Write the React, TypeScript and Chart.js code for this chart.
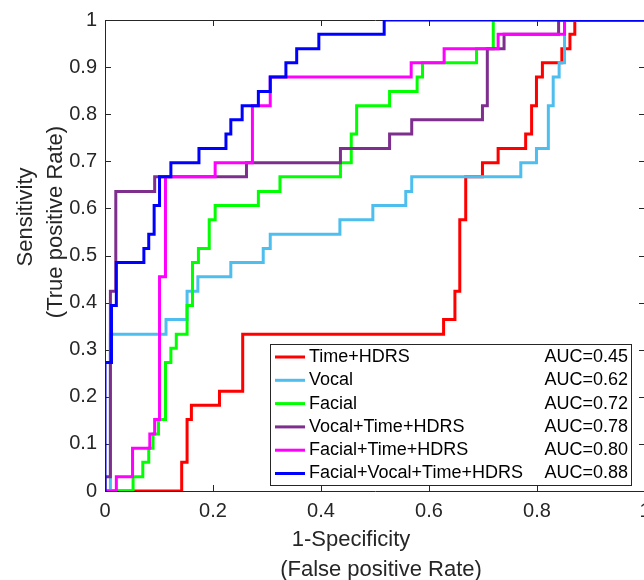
import React, { useEffect, useRef } from 'react';
import { Chart, registerables } from 'chart.js';

Chart.register(...registerables);

const seriesNames = ['Time+HDRS', 'Vocal', 'Facial', 'Vocal+Time+HDRS', 'Facial+Time+HDRS', 'Facial+Vocal+Time+HDRS'];
const aucLabels = ['AUC=0.45', 'AUC=0.62', 'AUC=0.72', 'AUC=0.78', 'AUC=0.80', 'AUC=0.88'];
const seriesColors = ['#FF0000', '#4DBEEE', '#00FF00', '#7E2F8E', '#FF00FF', '#0000FF'];

const timeHdrsFpr = [0, 0.142, 0.152, 0.16, 0.212, 0.255, 0.627, 0.648, 0.657, 0.668, 0.699, 0.728, 0.779, 0.79, 0.799, 0.81, 0.846, 0.861, 0.87, 1];
const timeHdrsTpr = [0, 0.061, 0.152, 0.182, 0.212, 0.333, 0.364, 0.424, 0.576, 0.667, 0.697, 0.727, 0.758, 0.818, 0.879, 0.909, 0.939, 0.97, 1, 1];

const vocalFpr = [0, 0.01, 0.113, 0.152, 0.172, 0.233, 0.293, 0.306, 0.435, 0.496, 0.557, 0.568, 0.77, 0.799, 0.821, 0.83, 0.841, 0.851, 1];
const vocalTpr = [0, 0.333, 0.364, 0.424, 0.455, 0.485, 0.515, 0.545, 0.576, 0.606, 0.636, 0.667, 0.697, 0.727, 0.818, 0.879, 0.909, 1, 1];

const facialFpr = [0, 0.052, 0.07, 0.081, 0.089, 0.099, 0.112, 0.122, 0.132, 0.152, 0.162, 0.173, 0.193, 0.204, 0.284, 0.324, 0.436, 0.456, 0.466, 0.527, 0.578, 0.588, 0.688, 0.719, 1];
const facialTpr = [0, 0.03, 0.061, 0.091, 0.121, 0.152, 0.273, 0.303, 0.333, 0.394, 0.485, 0.515, 0.576, 0.606, 0.636, 0.667, 0.697, 0.758, 0.818, 0.848, 0.879, 0.909, 0.939, 1, 1];

const vocalTimeFpr = [0, 0, 0.01, 0.02, 0.092, 0.262, 0.436, 0.527, 0.568, 0.699, 0.708, 0.739, 0.84, 1];
const vocalTimeTpr = [0, 0.03, 0.424, 0.636, 0.667, 0.697, 0.727, 0.758, 0.788, 0.818, 0.939, 0.97, 1, 1];

const facialTimeFpr = [0, 0.021, 0.051, 0.083, 0.092, 0.101, 0.112, 0.204, 0.273, 0.306, 0.567, 0.628, 0.728, 0.851, 1];
const facialTimeTpr = [0, 0.03, 0.091, 0.121, 0.152, 0.455, 0.667, 0.697, 0.818, 0.879, 0.909, 0.939, 0.97, 1, 1];

const allFpr = [0, 0, 0.012, 0.021, 0.072, 0.081, 0.091, 0.101, 0.122, 0.174, 0.224, 0.233, 0.254, 0.284, 0.306, 0.335, 0.355, 0.396, 0.517, 1];
const allTpr = [0, 0.273, 0.394, 0.485, 0.515, 0.545, 0.606, 0.667, 0.697, 0.727, 0.758, 0.788, 0.818, 0.848, 0.879, 0.909, 0.939, 0.97, 1, 1];

const fprSeries = [timeHdrsFpr, vocalFpr, facialFpr, vocalTimeFpr, facialTimeFpr, allFpr];
const tprSeries = [timeHdrsTpr, vocalTpr, facialTpr, vocalTimeTpr, facialTimeTpr, allTpr];

const xTickValues = [0, 0.2, 0.4, 0.6, 0.8, 1];
const xTickLabels = ['0', '0.2', '0.4', '0.6', '0.8', '1'];
const yTickValues = [0, 0.1, 0.2, 0.3, 0.4, 0.5, 0.6, 0.7, 0.8, 0.9, 1];
const yTickLabels = ['0', '0.1', '0.2', '0.3', '0.4', '0.5', '0.6', '0.7', '0.8', '0.9', '1'];
const xTitleLines = ['1-Specificity', '(False positive Rate)'];
const yTitleLines = ['Sensitivity', '(True positive Rate)'];

const FONT = '"Liberation Sans", Arial, Helvetica, sans-serif';
const AXIS_COLOR = '#262626';

function labelFor(values: number[], labels: string[], v: number) {
  for (let i = 0; i < values.length; i++) {
    if (Math.abs(values[i] - v) < 1e-6) return labels[i];
  }
  return '';
}

const framePlugin = {
  id: 'matlabFrame',
  beforeDatasetsDraw(chart: any) {
    const { ctx, chartArea } = chart;
    const { left, right, top, bottom } = chartArea;
    const xs = chart.scales.x;
    const ys = chart.scales.y;
    ctx.save();
    ctx.strokeStyle = AXIS_COLOR;
    ctx.lineWidth = 1;
    ctx.beginPath();
    ctx.rect(Math.round(left) + 0.5, Math.round(top) + 0.5, Math.round(right - left), Math.round(bottom - top));
    ctx.stroke();
    const tl = 6;
    ctx.beginPath();
    xTickValues.forEach((v) => {
      const px = Math.round(xs.getPixelForValue(v)) + 0.5;
      ctx.moveTo(px, bottom);
      ctx.lineTo(px, bottom - tl);
      ctx.moveTo(px, top);
      ctx.lineTo(px, top + tl);
    });
    yTickValues.forEach((v) => {
      const py = Math.round(ys.getPixelForValue(v)) + 0.5;
      ctx.moveTo(left, py);
      ctx.lineTo(left + tl, py);
      ctx.moveTo(right, py);
      ctx.lineTo(right - tl, py);
    });
    ctx.stroke();
    ctx.restore();
  },
  afterDraw(chart: any) {
    const { ctx } = chart;
    ctx.save();
    // axis titles
    ctx.fillStyle = AXIS_COLOR;
    ctx.font = `22px ${FONT}`;
    ctx.textAlign = 'center';
    ctx.textBaseline = 'middle';
    ctx.fillText(xTitleLines[0], 351, 540);
    ctx.fillText(xTitleLines[1], 381, 570);
    ctx.save();
    ctx.translate(26, 217);
    ctx.rotate(-Math.PI / 2);
    ctx.fillText(yTitleLines[0], 0, 0);
    ctx.restore();
    ctx.save();
    ctx.translate(56, 222);
    ctx.rotate(-Math.PI / 2);
    ctx.fillText(yTitleLines[1], 0, 0);
    ctx.restore();

    // legend
    const bx = 270.5, by = 344.5, bw = 361, bh = 141;
    ctx.fillStyle = '#FFFFFF';
    ctx.fillRect(bx, by, bw, bh);
    ctx.strokeStyle = AXIS_COLOR;
    ctx.lineWidth = 1;
    ctx.strokeRect(bx, by, bw, bh);
    ctx.font = `18px ${FONT}`;
    ctx.textBaseline = 'middle';
    seriesNames.forEach((name, i) => {
      const yy = 357 + i * 23.3;
      ctx.strokeStyle = seriesColors[i];
      ctx.lineWidth = 3;
      ctx.beginPath();
      ctx.moveTo(275, yy);
      ctx.lineTo(305, yy);
      ctx.stroke();
      ctx.fillStyle = '#000000';
      ctx.textAlign = 'left';
      ctx.fillText(name, 309, yy);
      ctx.textAlign = 'right';
      ctx.fillText(aucLabels[i], 628, yy);
    });
    ctx.restore();
  },
};

export default function App() {
  const ref = useRef<HTMLCanvasElement>(null);
  useEffect(() => {
    const canvas = ref.current;
    if (!canvas) return;
    const datasets = seriesNames.map((name, i) => ({
      label: name,
      data: fprSeries[i].map((x, j) => ({ x, y: tprSeries[i][j] })),
      borderColor: seriesColors[i],
      backgroundColor: seriesColors[i],
      borderWidth: 3,
      pointRadius: 0,
      pointHoverRadius: 0,
      stepped: true,
      fill: false,
      order: seriesNames.length - i,
    }));
    const tickFont = { family: FONT, size: 20 };
    const chart = new Chart(canvas, {
      type: 'line',
      data: { datasets },
      options: {
        animation: false,
        responsive: false,
        devicePixelRatio: 1,
        layout: { padding: { left: 0, right: 15, top: 15, bottom: 0 } },
        plugins: { legend: { display: false }, tooltip: { enabled: false } },
        scales: {
          x: {
            type: 'linear',
            min: 0,
            max: 1,
            afterBuildTicks: (s: any) => { s.ticks = xTickValues.map((v) => ({ value: v })); },
            ticks: {
              color: AXIS_COLOR, font: tickFont, padding: 8, maxRotation: 0, autoSkip: false,
              callback: (v: any) => labelFor(xTickValues, xTickLabels, Number(v)),
            },
            grid: { display: false, drawTicks: false },
            border: { display: false },
            afterFit: (s: any) => { s.height = 89; },
          },
          y: {
            type: 'linear',
            min: 0,
            max: 1,
            afterBuildTicks: (s: any) => { s.ticks = yTickValues.map((v) => ({ value: v })); },
            ticks: {
              color: AXIS_COLOR, font: tickFont, padding: 8, autoSkip: false,
              callback: (v: any) => labelFor(yTickValues, yTickLabels, Number(v)),
            },
            grid: { display: false, drawTicks: false },
            border: { display: false },
            afterFit: (s: any) => { s.width = 105; },
          },
        },
      } as any,
      plugins: [framePlugin],
    });
    return () => chart.destroy();
  }, []);
  return (
    <div style={{ position: 'fixed', left: 0, top: 0, width: 644, height: 580, overflow: 'hidden', background: '#fff' }}>
      <canvas ref={ref} width={660} height={580} style={{ width: 660, height: 580, display: 'block' }} />
    </div>
  );
}
